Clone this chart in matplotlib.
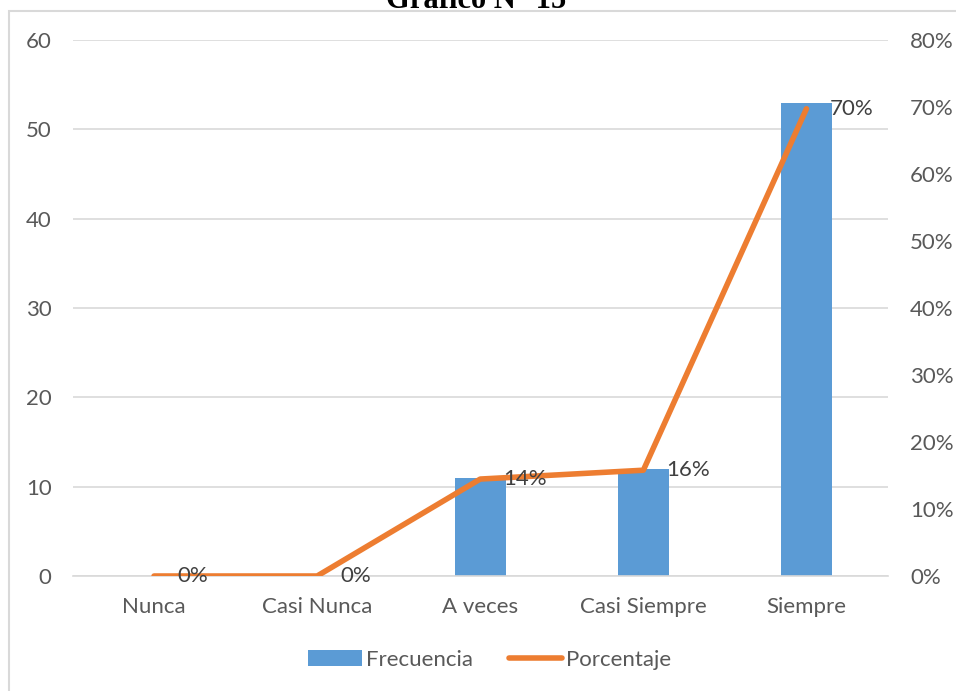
import numpy as np
import matplotlib.pyplot as plt
from matplotlib.patches import Rectangle, Patch
from matplotlib.lines import Line2D

categories = ['Nunca', 'Casi Nunca', 'A veces', 'Casi Siempre', 'Siempre']
frecuencia = [0, 0, 11, 12, 53]
porcentaje = [0.0, 0.0, 14.47, 15.79, 69.74]
pct_labels = ['0%', '0%', '14%', '16%', '70%']

bar_color = '#5B9BD5'
line_color = '#ED7D31'
text_color = '#595959'
grid_color = '#D9D9D9'

plt.rcParams['font.family'] = ['Lato', 'DejaVu Sans']

fig = plt.figure(figsize=(9.56, 6.91), dpi=100)
W, H = 956, 691
ax = fig.add_axes([72.5 / W, 1 - 576 / H, (888 - 72.5) / W, (576 - 40) / H])
ax2 = ax.twinx()

# outer chart border
fig.patches.append(Rectangle((9 / W, -0.1), 1.2, 1 - 11 / H + 0.1,
                             transform=fig.transFigure, fill=False,
                             edgecolor=grid_color, linewidth=1.5))

# title, cut off at the top edge as in the source
fig.text(476 / W, 1.0, 'Gráfico N° 15', ha='center', va='center',
         fontsize=22, fontweight='bold', family='Liberation Serif', color='black')

x = np.arange(len(categories))
ax.bar(x, frecuencia, width=0.31, color=bar_color, zorder=2)
ax.set_ylim(0, 60)
ax.set_yticks(range(0, 61, 10))
ax.set_xlim(-0.5, len(categories) - 0.5)
ax.set_xticks(x)
ax.set_xticklabels(categories)
ax.grid(True, axis='y', color=grid_color, linewidth=1.2, zorder=0)
ax.set_axisbelow(True)

ax2.plot(x, porcentaje, color=line_color, linewidth=4, solid_capstyle='round', zorder=3)
ax2.set_ylim(0, 80)
ax2.set_yticks(range(0, 81, 10))
ax2.set_yticklabels([f'{v}%' for v in range(0, 81, 10)])
for xi, yi, lab in zip(x, porcentaje, pct_labels):
    ax2.annotate(lab, (xi, yi), xytext=(23, 0), textcoords='offset pixels',
                 ha='left', va='center', fontsize=16, color='#404040')

for a in (ax, ax2):
    for s in a.spines.values():
        s.set_visible(False)
    a.tick_params(length=0, labelsize=16, colors=text_color)
ax.spines['bottom'].set_visible(True)
ax.spines['bottom'].set_color(grid_color)
ax.spines['bottom'].set_linewidth(1.2)
ax.tick_params(axis='y', pad=15)
ax.tick_params(axis='x', pad=15)
ax2.tick_params(axis='y', pad=16)

handles = [Patch(facecolor=bar_color, label='Frecuencia'),
           Line2D([0], [0], color=line_color, linewidth=4, solid_capstyle='round',
                  label='Porcentaje')]
fig.legend(handles=handles, loc='center', bbox_to_anchor=(490 / W, 1 - 660 / H),
           ncol=2, frameon=False, fontsize=16, labelcolor=text_color,
           handlelength=2.4, handletextpad=0.2, columnspacing=1.6)

fig.savefig('out.png', dpi=100)
